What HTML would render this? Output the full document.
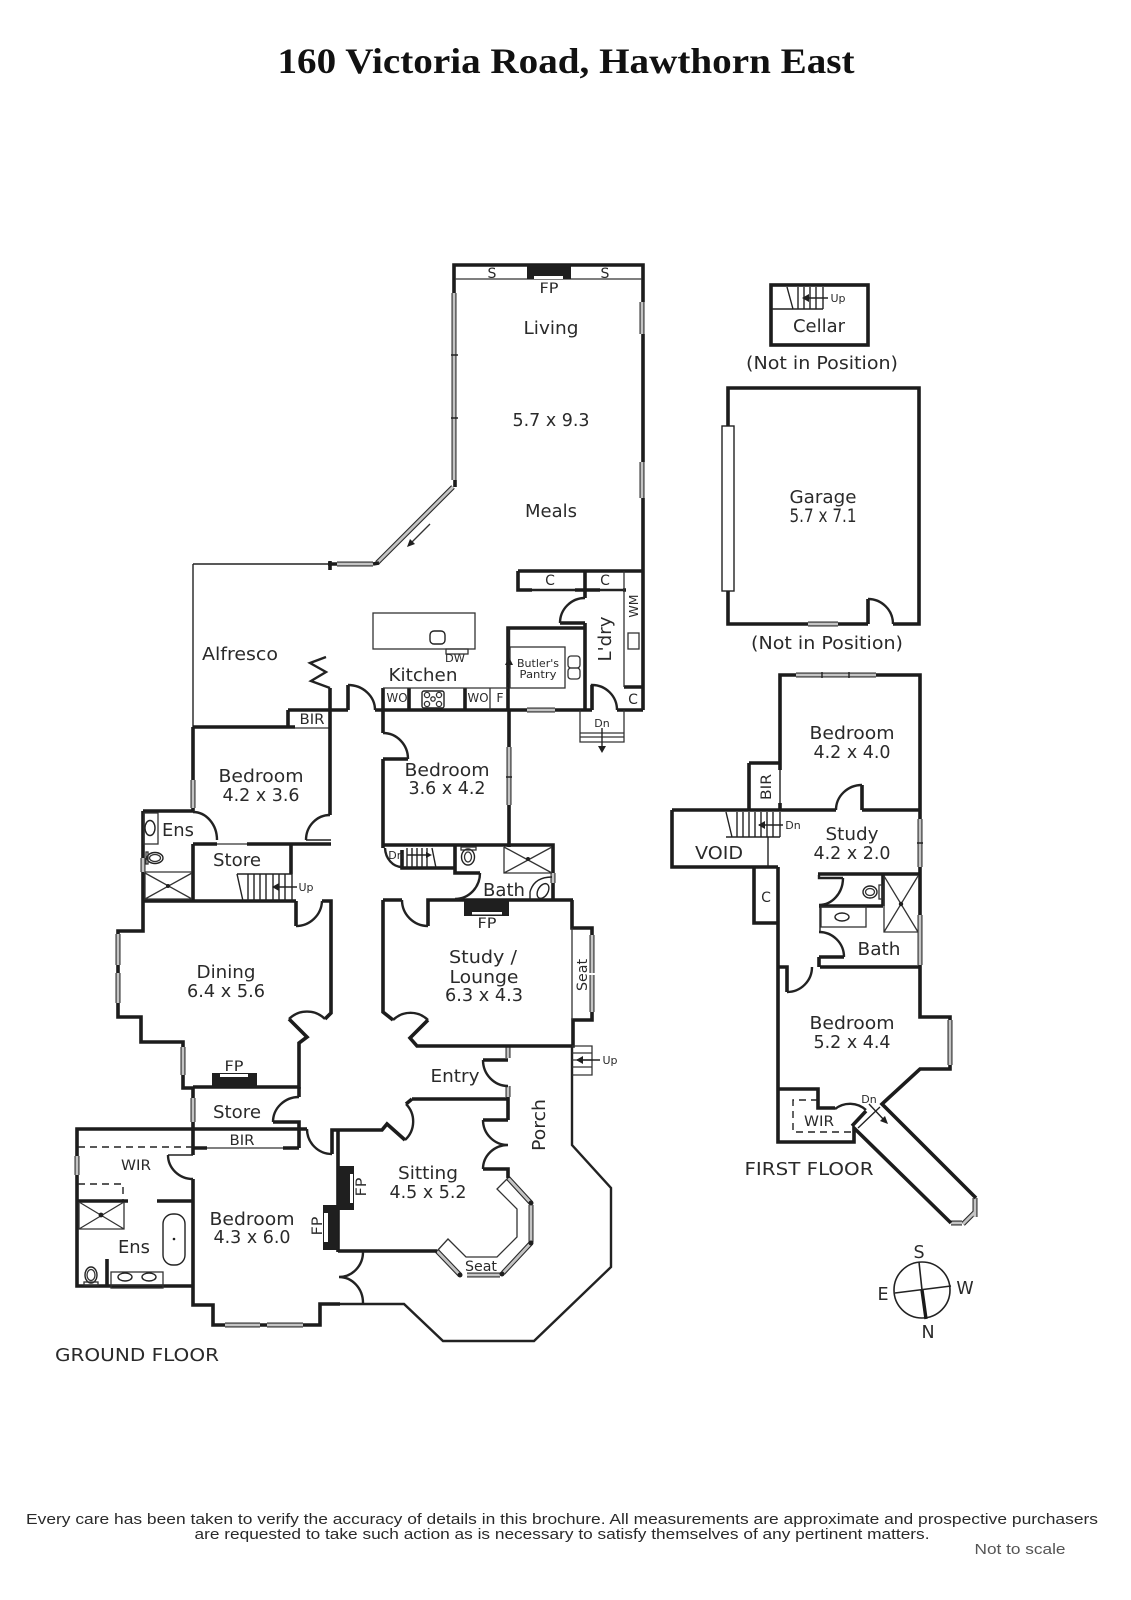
<!DOCTYPE html>
<html><head><meta charset="utf-8"><title>160 Victoria Road, Hawthorn East</title>
<style>
html,body{margin:0;padding:0;background:#fff}
svg{display:block}
.w{fill:none;stroke:#1c1c1c;stroke-width:3.6;stroke-linejoin:miter}
.m{fill:none;stroke:#222;stroke-width:2.4}
.t{fill:none;stroke:#333;stroke-width:1.3}
.a{fill:none;stroke:#222;stroke-width:1.4}
.wa{fill:none;stroke:#2a2a2a;stroke-width:5}
.wb{fill:none;stroke:#c4c4c4;stroke-width:2.8}
.k{fill:#1f1f1f}
.wh{fill:#fff}
text{font-family:"DejaVu Sans","Liberation Sans",sans-serif;fill:#2a2a2a;text-anchor:middle;font-size:17.5px}
.s{font-size:14px}.x{font-size:11px}.y{font-size:12.5px}
.d{stroke-dasharray:7 5}
</style></head><body>
<svg width="1131" height="1600" viewBox="0 0 1131 1600" xmlns="http://www.w3.org/2000/svg">
<defs>
<path id="win" d="M454 293V480M642 302V334M642 462V498M453 487L377 563M337 564H373M193 780V808M143 858V872M118 934V965M118 973V1003M183 1047V1075M527 710H555M509 747V805M553 873V883M592 935V973M592 975V1012M508 1047V1058M508 1086V1097M193 1098V1122M77 1156V1175M225 1325H260M267 1325H303M437 1251L460 1275M467 1275H500M503 1273L531 1243M531 1205V1242M508 1178L531 1203M808 624H838M796 675H876M920 819V867M920 915V965M950 1020V1065M975 1198V1217M975 1212L963 1224M951 1223H962"/>
</defs>

<text x="566" y="73" style="font-family:'Liberation Serif',serif;font-weight:bold;font-size:36px;fill:#111" textLength="577" lengthAdjust="spacingAndGlyphs">160 Victoria Road, Hawthorn East</text>

<!-- windows base -->
<use href="#win" class="wa"/><use href="#win" class="wb"/>
<path class="a" d="M451 355H458M451 418H458M506 777H512M822 672V678M849 672V678M917 843H923M643 460V460"/>

<!-- Living -->
<path class="w" d="M454 293V265H643V302M643 334V462M643 498V710M455 480V487"/>
<path class="t" d="M455 279H642"/>
<rect class="k" x="527" y="265" width="44" height="14"/><rect class="wh" x="534" y="276" width="29" height="3"/>
<path class="w" d="M328 564H337M330 561V570M373 564L379 563"/>
<path class="a" d="M193 564H328M193 564V727"/>
<path class="t" d="M430 524L410 544"/><path class="k" d="M407 547L410 539L415 544Z"/>

<!-- C / laundry -->
<path class="w" d="M518 571H643M518 571V590H532M585 571V598M575 590H600M585 623V710M560 623H585M508 710V628H585M617 710H643M623 590H626M624 687H643"/>
<path class="m" d="M532 590H575M600 590H623"/>
<path class="t" d="M624 571V687"/>
<path class="m" d="M585 598A25 25 0 0 0 560 623"/>
<path class="m" d="M592 710V685A25 25 0 0 1 617 710"/>
<rect class="t" x="628" y="633" width="11" height="16"/>
<rect class="t" x="510" y="647" width="55" height="41"/>
<rect class="t" x="568" y="656" width="12" height="12" rx="3"/><rect class="t" x="568" y="668" width="12" height="11" rx="3"/>
<path class="m" d="M509 628V650"/>
<path class="a" d="M509 662V683" stroke-dasharray="4 2"/><path class="k" d="M509 657L513 665H505Z"/>

<!-- Kitchen -->
<rect class="t" x="373" y="613" width="102" height="36"/>
<rect class="a" x="430" y="631" width="15" height="13" rx="4"/>
<rect class="t" x="446" y="649" width="22" height="5"/>
<path class="w" d="M288 710H348M348 685V710M375 710H527M555 710H585M592 710V685M585 710H592M330 688V727M383 688V733M465 688V710M409 688V710"/>
<path class="m" d="M348 685A27 25 0 0 1 375 710"/>
<path class="t" d="M383 688H508M490 688V710"/>
<rect class="a" x="422" y="691" width="22" height="17" rx="2"/>
<circle class="t" cx="427" cy="695" r="2.6"/><circle class="t" cx="439" cy="695" r="2.6"/><circle class="t" cx="427" cy="704" r="2.6"/><circle class="t" cx="439" cy="704" r="2.6"/><circle class="t" cx="433" cy="699" r="2.2"/>
<path class="m" d="M326 657L310 663L326 672L311 681L330 688"/>
<path class="w" d="M193 727H295M288 727V710"/>
<path class="t" d="M295 728H330"/>

<!-- Stairs porch / steps at laundry -->
<path class="t" d="M580 710V742H624V710M580 733H624M580 737H624"/>
<path class="a" d="M602 728V748"/><path class="k" d="M602 753L598 746H606Z"/>

<!-- Bedroom 4.2x3.6 -->
<path class="w" d="M193 727V780M193 808V812M143 811H193M330 727V815M193 844H217M247 844H331"/>
<path class="a" d="M306 840H331"/>
<path class="m" d="M330 815A24 25 0 0 0 306 840M193 812A24 28 0 0 1 217 840"/>
<path class="t" d="M217 844H247"/>

<!-- Ens / store -->
<path class="w" d="M143 811V858M143 872V931H118V934M118 965V973M118 1003V1017H141V1042H183V1047M183 1075V1088H193M193 844V901M291 844V874M143 901H296"/>
<rect class="t" x="144" y="813" width="14" height="31"/>
<ellipse class="a" cx="150" cy="828" rx="5" ry="7.5"/>
<ellipse class="a" cx="155" cy="858" rx="8" ry="5.5"/><ellipse class="t" cx="155" cy="858" rx="5.5" ry="3.5"/><rect class="t" x="146" y="852" width="2" height="12"/>
<path class="t" d="M145 872H192M145 873L192 899M192 873L145 899M145 899H192M145 873V899"/>
<circle class="k" cx="168" cy="886" r="2"/>
<path class="a" d="M237 874H292M237 874L243 901M248 874V901M254 874V901M260 874V901M266 874V901M273 874V901M279 874V901M285 874V901M292 874V901"/>
<path class="a" d="M275 887H297"/><path class="k" d="M272 887L279 883V891Z"/>

<!-- Dining -->
<path class="w" d="M296 901V926M322 901H331V1013L325 1019M289 1019L307 1037L299 1043V1087H193"/>
<path class="m" d="M296 926A26 26 0 0 0 322 901M289 1019A25.5 25.5 0 0 1 325 1019"/>
<rect class="k" x="212" y="1073" width="45" height="14"/><rect class="wh" x="220" y="1074" width="28" height="3"/>

<!-- Bedroom 3.6x4.2 / stair / bath -->
<path class="w" d="M383 759V848M509 710V747M509 805V847M383 759H408M383 845H553V873M553 883V900M383 900H402M428 926V900H573M455 845V873H480M402 850V868H455"/>
<path class="m" d="M383 733A25 26 0 0 1 408 759M480 873A25 26 0 0 1 455 899M402 900A26 26 0 0 0 428 926"/>
<path class="m" d="M385 848A17 20 0 0 0 402 867"/>
<path class="a" d="M407 848V868M412 848V868M417 848V868M422 848V868M427 848V868M432 848L436 868"/>
<path class="a" d="M407 855H429"/><path class="k" d="M432 855L426 852V858Z"/>
<ellipse class="a" cx="468" cy="857" rx="6.5" ry="8"/><ellipse class="t" cx="468" cy="857" rx="3.5" ry="5"/><rect class="t" x="461" y="847" width="15" height="3"/>
<path class="t" d="M504 847V873H552M504 847L552 873M552 847L504 873"/><circle class="k" cx="528" cy="859" r="2"/>
<ellipse class="a" cx="543" cy="891" rx="5" ry="8" transform="rotate(30 543 891)"/>
<path class="a" d="M530 900V892Q534 877 552 877"/>

<!-- Study/Lounge -->
<path class="w" d="M383 900V1012L393 1020M428 1020L410 1038L417 1046H573V1020H592V1012M592 935V928H572V900"/>
<path class="m" d="M393 1020A25 25 0 0 1 428 1020"/>
<rect class="k" x="464" y="900" width="45" height="16"/><rect class="wh" x="472" y="912" width="30" height="2.5"/>
<path class="t" d="M572 928V1020"/>

<!-- Porch / Entry -->
<path class="m" d="M572 1046V1145L611 1188V1267L534 1341H443L404 1304H340"/>
<path class="t" d="M572 1046H592V1075H572M572 1053H592M572 1060H592M572 1067H592"/>
<path class="a" d="M577 1060H600"/><path class="k" d="M576 1060L583 1056V1064Z"/>
<path class="w" d="M483 1060H508M508 1046V1047M412 1099H508M412 1099L406 1104M508 1097V1120M483 1120H508M483 1169H508V1178M405 1140L387 1124L382 1130H332V1154M338 1130V1252M338 1251H437"/>
<path class="m" d="M483 1060A25 26 0 0 0 508 1086M406 1104A25 25 0 0 1 405 1140M483 1120A25 25 0 0 0 508 1145M483 1169A25 24 0 0 1 508 1145"/>
<path class="t" d="M508 1178L497 1189L517 1209V1237L497 1257H466L448 1239L437 1251"/>
<rect class="k" x="338" y="1166" width="16" height="44"/><rect class="wh" x="350" y="1174" width="3" height="29"/>
<rect class="k" x="323" y="1205" width="15" height="45"/><rect class="wh" x="324" y="1213" width="4" height="29"/>
<circle class="k" cx="460" cy="1275" r="2.5"/><circle class="k" cx="502" cy="1274" r="2.5"/><circle class="k" cx="531" cy="1243" r="2.5"/><circle class="k" cx="531" cy="1203" r="2.5"/>

<!-- Master bedroom / ens -->
<path class="w" d="M193 1088V1098M193 1122V1155M193 1179V1305H213V1325H225M260 1325H267M303 1325H320V1304H340M77 1156V1129H307M77 1175V1286H193M78 1201H128M157 1201H193M299 1087V1097M273 1122H299V1148M193 1148H207M283 1148H299M107 1259V1286"/>
<path class="t" d="M207 1148H283"/>
<path class="m" d="M273 1122A26 25 0 0 1 299 1097M307 1129A25 25 0 0 0 332 1154M168 1155A25 24 0 0 0 193 1179M363 1252A24 25 0 0 1 339 1277M339 1277A24 26 0 0 1 363 1303"/>
<path class="a" d="M168 1155H193"/>
<path class="a d" d="M78 1147H193M78 1184H123V1200"/>
<path class="t" d="M79 1202V1229H124V1202M79 1202L124 1229M124 1202L79 1229"/><circle class="k" cx="101" cy="1215" r="2.4"/>
<rect class="a" x="163" y="1214" width="22" height="51" rx="10"/><circle class="k" cx="174" cy="1239" r="1.3"/>
<ellipse class="a" cx="91" cy="1275" rx="6" ry="8"/><ellipse class="t" cx="91" cy="1275" rx="4" ry="5.5"/><rect class="t" x="84" y="1282" width="14" height="3"/>
<rect class="t" x="111" y="1272" width="52" height="16"/><ellipse class="a" cx="125" cy="1277" rx="7" ry="4"/><ellipse class="a" cx="149" cy="1277" rx="7" ry="4"/><path class="t" d="M111 1285H163"/>

<!-- Cellar -->
<rect class="w" x="771" y="285" width="97" height="60"/>
<path class="a" d="M772 309H823M787 287L793 309M798 287V309M804 287V309M810 287V309M816 287V309M823 287V309"/>
<path class="a" d="M804 298H828"/><path class="k" d="M802 298L809 294V302Z"/>

<!-- Garage -->
<path class="w" d="M728 426V388H919V624H893M868 624H838M808 624H728V591M868 624V599"/>
<path class="m" d="M868 599A25 25 0 0 1 893 624"/>
<rect x="722" y="426" width="12" height="165" fill="#fff" stroke="#222" stroke-width="1.4"/>

<!-- First floor -->
<path class="w" d="M780 763V675H796M876 675H920V819M920 867V915M920 965V1017H950V1020M950 1065V1069H920L882 1104L976 1198M951 1223L854 1128V1142H778V867M749 763H780V770M749 763V810M672 810H836M862 810H920M862 785V810M672 810V867H778M754 867V923H778M780 803V810M818 874H920M819 906H883M883 874V906M819 957H844M819 957V967M778 967H787V992M820 967H920M778 1089H818V1108H835M852 1126L866 1111"/>
<path class="a" d="M780 770V803M768 837V867M726 837H780M726 812L732 837M737 812V837M743 812V837M749 812V837M755 812V837M761 812V837M767 812V837M773 812V837M780 812V837"/>
<path class="a" d="M759 825H783"/><path class="k" d="M758 825L765 821V829Z"/>
<path class="m" d="M862 785A26 25 0 0 0 836 810M843 878A24 27 0 0 1 819 905M819 932A25 25 0 0 1 844 957M812 967A25 25 0 0 1 787 992M819 875V878H843"/>
<path class="a" d="M820 906V932"/>
<ellipse class="a" cx="870" cy="892" rx="7" ry="6"/><ellipse class="t" cx="870" cy="892" rx="4.5" ry="3.5"/><rect class="t" x="879" y="885" width="3" height="14"/>
<path class="t" d="M884 876V932H918M884 876L918 932M918 876L884 932"/><circle class="k" cx="901" cy="904" r="2.2"/>
<rect class="t" x="821" y="907" width="45" height="20"/><ellipse class="a" cx="842" cy="917" rx="7" ry="4"/>
<path class="m" d="M866 1110A24 24 0 0 0 835 1109"/>
<path class="a d" d="M818 1100H793V1132H852"/>
<path class="a" d="M858 1128L880 1107M869 1104L885 1121"/><path class="k" d="M888 1124L880 1121L885 1116Z"/>

<!-- Compass -->
<circle cx="922" cy="1290" r="28" fill="none" stroke="#222" stroke-width="1.6"/>
<path d="M919 1262L922 1290M895 1293L951 1286" fill="none" stroke="#222" stroke-width="1.6"/>
<path d="M922 1290L926 1319" fill="none" stroke="#1a1a1a" stroke-width="3.4"/>

<!-- Labels -->
<g transform="translate(0,-1)">
<text class="s" x="492" y="279">S</text><text class="s" x="605" y="279">S</text>
<text class="s" x="549" y="294" textLength="19" lengthAdjust="spacingAndGlyphs">FP</text>
<text x="551" y="335" textLength="55" lengthAdjust="spacingAndGlyphs">Living</text>
<text x="551" y="427" textLength="77" lengthAdjust="spacingAndGlyphs">5.7 x 9.3</text>
<text x="551" y="518" textLength="52" lengthAdjust="spacingAndGlyphs">Meals</text>
<text x="240" y="661" textLength="76" lengthAdjust="spacingAndGlyphs">Alfresco</text>
<text x="423" y="682" textLength="69" lengthAdjust="spacingAndGlyphs">Kitchen</text>
<text class="s" x="550" y="586">C</text><text class="s" x="605" y="586">C</text>
<text class="x" x="455" y="663" textLength="20" lengthAdjust="spacingAndGlyphs">DW</text>
<text class="x" x="538" y="668" textLength="42" lengthAdjust="spacingAndGlyphs">Butler's</text>
<text class="x" x="538" y="679" textLength="37" lengthAdjust="spacingAndGlyphs">Pantry</text>
<text class="y" x="397" y="703" textLength="21" lengthAdjust="spacingAndGlyphs">WO</text>
<text class="y" x="478" y="703" textLength="21" lengthAdjust="spacingAndGlyphs">WO</text>
<text class="y" x="500" y="703">F</text>
<text class="s" x="633" y="705">C</text>
<text class="x" x="602" y="728">Dn</text>
<text x="0" y="6" transform="translate(605,640) rotate(-90)" textLength="45" lengthAdjust="spacingAndGlyphs">L'dry</text>
<text class="y" x="0" y="5" transform="translate(633,607) rotate(-90)">WM</text>
<text class="s" x="312" y="725" textLength="25" lengthAdjust="spacingAndGlyphs">BIR</text>
<text x="261" y="783" textLength="85" lengthAdjust="spacingAndGlyphs">Bedroom</text>
<text x="261" y="802" textLength="77" lengthAdjust="spacingAndGlyphs">4.2 x 3.6</text>
<text x="447" y="777" textLength="85" lengthAdjust="spacingAndGlyphs">Bedroom</text>
<text x="447" y="795" textLength="77" lengthAdjust="spacingAndGlyphs">3.6 x 4.2</text>
<text x="178" y="837" textLength="32" lengthAdjust="spacingAndGlyphs">Ens</text>
<text x="237" y="867" textLength="48" lengthAdjust="spacingAndGlyphs">Store</text>
<text class="x" x="306" y="892">Up</text>
<text class="x" x="396" y="860">Dn</text>
<text x="504" y="897" textLength="42" lengthAdjust="spacingAndGlyphs">Bath</text>
<text class="s" x="487" y="929" textLength="19" lengthAdjust="spacingAndGlyphs">FP</text>
<text x="483" y="964" textLength="68" lengthAdjust="spacingAndGlyphs">Study /</text>
<text x="484" y="984" textLength="69" lengthAdjust="spacingAndGlyphs">Lounge</text>
<text x="484" y="1002" textLength="78" lengthAdjust="spacingAndGlyphs">6.3 x 4.3</text>
<text class="s" x="0" y="5" transform="translate(582,976) rotate(-90)" textLength="32" lengthAdjust="spacingAndGlyphs">Seat</text>
<text x="226" y="979" textLength="59" lengthAdjust="spacingAndGlyphs">Dining</text>
<text x="226" y="998" textLength="78" lengthAdjust="spacingAndGlyphs">6.4 x 5.6</text>
<text class="s" x="234" y="1072" textLength="19" lengthAdjust="spacingAndGlyphs">FP</text>
<text class="x" x="610" y="1065">Up</text>
<text x="455" y="1083" textLength="49" lengthAdjust="spacingAndGlyphs">Entry</text>
<text x="237" y="1119" textLength="48" lengthAdjust="spacingAndGlyphs">Store</text>
<text class="s" x="242" y="1146" textLength="25" lengthAdjust="spacingAndGlyphs">BIR</text>
<text class="s" x="136" y="1171" textLength="30" lengthAdjust="spacingAndGlyphs">WIR</text>
<text x="134" y="1254" textLength="32" lengthAdjust="spacingAndGlyphs">Ens</text>
<text x="252" y="1226" textLength="85" lengthAdjust="spacingAndGlyphs">Bedroom</text>
<text x="252" y="1244" textLength="77" lengthAdjust="spacingAndGlyphs">4.3 x 6.0</text>
<text class="s" x="0" y="5" transform="translate(361,1188) rotate(-90)" textLength="19" lengthAdjust="spacingAndGlyphs">FP</text>
<text class="s" x="0" y="5" transform="translate(317,1227) rotate(-90)" textLength="19" lengthAdjust="spacingAndGlyphs">FP</text>
<text x="428" y="1180" textLength="60" lengthAdjust="spacingAndGlyphs">Sitting</text>
<text x="428" y="1199" textLength="77" lengthAdjust="spacingAndGlyphs">4.5 x 5.2</text>
<text x="0" y="6" transform="translate(539,1126) rotate(-90)" textLength="52" lengthAdjust="spacingAndGlyphs">Porch</text>
<text class="s" x="481" y="1272" textLength="32" lengthAdjust="spacingAndGlyphs">Seat</text>
<text x="137" y="1362" textLength="164" lengthAdjust="spacingAndGlyphs">GROUND FLOOR</text>

<text class="x" x="838" y="303">Up</text>
<text x="819" y="333" textLength="52" lengthAdjust="spacingAndGlyphs">Cellar</text>
<text x="822" y="370" textLength="152" lengthAdjust="spacingAndGlyphs">(Not in Position)</text>
<text x="823" y="504" textLength="67" lengthAdjust="spacingAndGlyphs">Garage</text>
<text x="823" y="523" textLength="67" lengthAdjust="spacingAndGlyphs" style="font-size:18.5px">5.7 x 7.1</text>
<text x="827" y="650" textLength="152" lengthAdjust="spacingAndGlyphs">(Not in Position)</text>

<text x="852" y="740" textLength="85" lengthAdjust="spacingAndGlyphs">Bedroom</text>
<text x="852" y="759" textLength="77" lengthAdjust="spacingAndGlyphs">4.2 x 4.0</text>
<text class="s" x="0" y="5" transform="translate(766,788) rotate(-90)" textLength="26" lengthAdjust="spacingAndGlyphs">BIR</text>
<text class="x" x="793" y="830">Dn</text>
<text x="852" y="841" textLength="53" lengthAdjust="spacingAndGlyphs">Study</text>
<text x="852" y="860" textLength="77" lengthAdjust="spacingAndGlyphs">4.2 x 2.0</text>
<text x="719" y="860" textLength="48" lengthAdjust="spacingAndGlyphs">VOID</text>
<text class="s" x="766" y="903">C</text>
<text x="879" y="956" textLength="43" lengthAdjust="spacingAndGlyphs">Bath</text>
<text x="852" y="1030" textLength="85" lengthAdjust="spacingAndGlyphs">Bedroom</text>
<text x="852" y="1049" textLength="77" lengthAdjust="spacingAndGlyphs">5.2 x 4.4</text>
<text class="x" x="869" y="1104">Dn</text>
<text class="s" x="819" y="1127" textLength="30" lengthAdjust="spacingAndGlyphs">WIR</text>
<text x="809" y="1176" textLength="129" lengthAdjust="spacingAndGlyphs">FIRST FLOOR</text>

<text x="919" y="1259">S</text>
<text x="883" y="1301">E</text>
<text x="965" y="1295">W</text>
<text x="928" y="1339">N</text>

<text x="562" y="1525" style="font-family:'Liberation Sans',sans-serif;font-size:14.5px" textLength="1072" lengthAdjust="spacingAndGlyphs">Every care has been taken to verify the accuracy of details in this brochure.  All measurements are approximate and prospective purchasers</text>
<text x="562" y="1540" style="font-family:'Liberation Sans',sans-serif;font-size:14.5px" textLength="735" lengthAdjust="spacingAndGlyphs">are requested to take such action as is necessary to satisfy themselves of any pertinent matters.</text>
<text x="1020" y="1555" style="font-family:'Liberation Sans',sans-serif;font-size:14.5px;fill:#555" textLength="91" lengthAdjust="spacingAndGlyphs">Not to scale</text>
</g>
</svg>
</body></html>
